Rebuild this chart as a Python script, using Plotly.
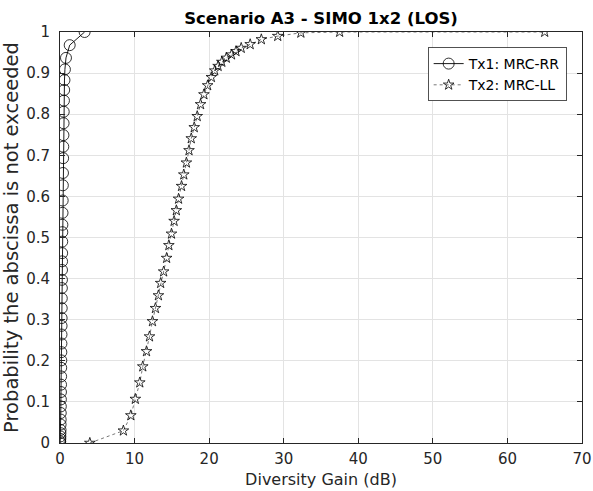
import plotly.graph_objects as go

# Empirical CDF of diversity gain, transmitter 1 (MRC, RR)
tx1_gain = [0.02, 0.03, 0.04, 0.05, 0.06, 0.07, 0.08, 0.09, 0.10, 0.11,
            0.12, 0.13, 0.14, 0.15, 0.16, 0.17, 0.18, 0.19, 0.20, 0.21,
            0.22, 0.23, 0.24, 0.25, 0.26, 0.27, 0.28, 0.29, 0.30, 0.31,
            0.32, 0.34, 0.36, 0.38, 0.40, 0.42, 0.44, 0.46, 0.48, 0.50,
            0.53, 0.56, 0.60, 0.66, 0.80, 1.30, 3.30]
tx1_prob = [0.000, 0.004, 0.010, 0.016, 0.024, 0.032, 0.045, 0.057, 0.073, 0.089,
            0.106, 0.124, 0.142, 0.162, 0.183, 0.201, 0.221, 0.242, 0.264, 0.285,
            0.304, 0.328, 0.352, 0.377, 0.397, 0.421, 0.442, 0.462, 0.490, 0.513,
            0.531, 0.560, 0.590, 0.627, 0.657, 0.693, 0.721, 0.749, 0.778, 0.806,
            0.833, 0.859, 0.883, 0.909, 0.937, 0.968, 1.000]

# Empirical CDF of diversity gain, transmitter 2 (MRC, LL)
tx2_gain = [4.0, 8.5, 9.5, 10.1, 10.7, 11.1, 11.6, 12.0, 12.4, 12.8,
            13.2, 13.5, 13.9, 14.3, 14.6, 14.95, 15.3, 15.6, 15.9, 16.3,
            16.6, 16.95, 17.3, 17.6, 18.0, 18.4, 18.85, 19.3, 19.8, 20.3,
            20.75, 21.2, 21.7, 22.3, 23.0, 23.6, 24.3, 25.5, 27.0, 29.2,
            32.3, 37.5, 65.0]
tx2_prob = [0.000, 0.030, 0.067, 0.107, 0.147, 0.186, 0.223, 0.259, 0.296, 0.328,
            0.359, 0.389, 0.417, 0.450, 0.481, 0.509, 0.540, 0.566, 0.594, 0.625,
            0.653, 0.682, 0.712, 0.741, 0.768, 0.795, 0.824, 0.848, 0.870, 0.890,
            0.906, 0.917, 0.927, 0.937, 0.945, 0.953, 0.961, 0.970, 0.982, 0.990,
            0.998, 1.000, 1.000]

series_names = ["Tx1: MRC-RR", "Tx2: MRC-LL"]
x_ticks = [0, 10, 20, 30, 40, 50, 60, 70]
y_ticks = [0, 0.1, 0.2, 0.3, 0.4, 0.5, 0.6, 0.7, 0.8, 0.9, 1]

FONT = "DejaVu Sans"
INK = "#262626"

fig = go.Figure()

fig.add_trace(go.Scatter(
    x=tx1_gain, y=tx1_prob, name=series_names[0], mode="lines+markers",
    line=dict(color="black", width=0.9),
    marker=dict(symbol="circle-open", size=11, color="black",
                line=dict(width=0.8, color="black")),
))
fig.add_trace(go.Scatter(
    x=tx2_gain, y=tx2_prob, name=series_names[1], mode="lines+markers",
    line=dict(color="#555555", width=0.8, dash="dot"),
    marker=dict(symbol="star-open", size=8, color="black",
                line=dict(width=0.8, color="black")),
))

axis_common = dict(
    showline=True, linecolor=INK, linewidth=1, mirror="ticks",
    ticks="inside", ticklen=5, tickcolor=INK, tickwidth=1,
    showgrid=True, gridcolor="#e3e3e3", gridwidth=1, zeroline=False,
    tickfont=dict(family=FONT, size=15, color=INK),
    automargin=False,
)

fig.update_xaxes(
    range=[0, 70], tickvals=x_ticks, ticktext=[str(v) for v in x_ticks],
    title=dict(text="Diversity Gain (dB)", font=dict(family=FONT, size=16, color=INK),
               standoff=6),
    ticklabelstandoff=2,
    **axis_common,
)
fig.update_yaxes(
    range=[0, 1], tickvals=y_ticks, ticktext=[f"{v:g}" for v in y_ticks],
    title=dict(text="Probability the abscissa is not exceeded",
               font=dict(family=FONT, size=19.5, color=INK), standoff=6),
    ticklabelstandoff=6,
    **axis_common,
)

fig.update_layout(
    width=593, height=491,
    margin=dict(l=60, r=11, t=32, b=48),
    paper_bgcolor="white", plot_bgcolor="white",
    title=dict(text="<b>Scenario A3 - SIMO 1x2 (LOS)</b>",
               font=dict(family=FONT, size=16.5, color="black"),
               x=0.5, xref="paper", xanchor="center",
               y=0.962, yref="container", yanchor="middle"),
    showlegend=True,
    legend=dict(x=0.971, y=0.963, xanchor="right", yanchor="top",
                bgcolor="white", bordercolor=INK, borderwidth=0.8,
                font=dict(family=FONT, size=14, color="black"),
                itemwidth=30, tracegroupgap=0),
)

fig.write_html("out.html")
